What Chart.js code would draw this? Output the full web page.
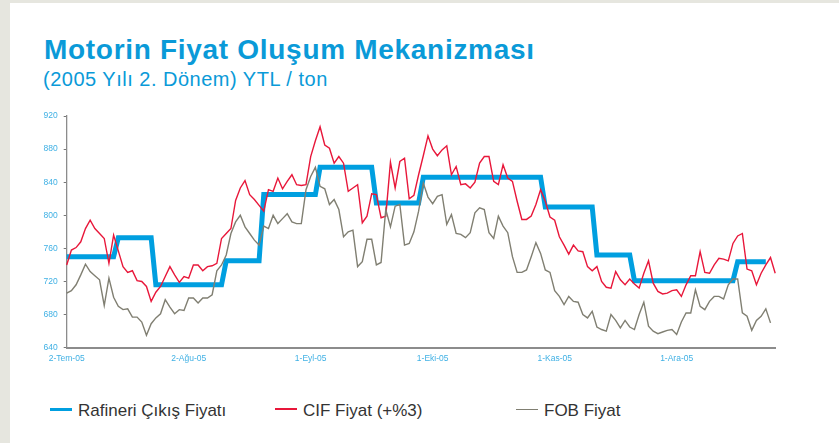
<!DOCTYPE html>
<html><head><meta charset="utf-8">
<script src="https://cdn.jsdelivr.net/npm/chart.js@4"></script>
<style>
html,body{margin:0;padding:0}
body{width:839px;height:443px;background:#e6e6df;position:relative;overflow:hidden;font-family:"Liberation Sans",Arial,sans-serif}
#panel{position:absolute;left:10px;top:3px;width:829px;height:440px;background:#fff}
.t{position:absolute;white-space:nowrap;color:#0a9ad8}
#title{left:44px;top:36px;font-size:28px;line-height:28px;font-weight:bold;letter-spacing:0.7px}
#sub{left:43px;top:69px;font-size:20px;line-height:20px;letter-spacing:0.5px}
#cv{position:absolute;left:0;top:100px}
.lg{position:absolute;top:402px;font-size:17px;line-height:17px;color:#333;white-space:nowrap}
.ln{position:absolute}
</style></head>
<body>
<div id="panel"></div>
<div class="t" id="title">Motorin Fiyat Oluşum Mekanizması</div>
<div class="t" id="sub">(2005 Yılı 2. Dönem) YTL / ton</div>
<canvas id="cv" width="800" height="270"></canvas>
<div class="ln" style="left:50px;width:22px;top:407.5px;height:3px;background:#009fe0"></div>
<div class="lg" style="left:78px">Rafineri Çıkış Fiyatı</div>
<div class="ln" style="left:275px;width:22px;top:408px;height:2px;background:#e8173a"></div>
<div class="lg" style="left:303px">CIF Fiyat (+%3)</div>
<div class="ln" style="left:516px;width:22px;top:408.5px;height:1px;background:#807f72"></div>
<div class="lg" style="left:544px">FOB Fiyat</div>
<script>
// Tick labels shown every 26 trading days
const tickLabels = ["2-Tem-05","2-Ağu-05","1-Eyl-05","1-Eki-05","1-Kas-05","1-Ara-05"];
const tickEvery = 26;
const pointCount = 152;

// Rafineri Çıkış Fiyatı (YTL/ton)
const rafineri = [
750,750,750,750,750,750,750,750,750,750,
750,773,773,773,773,773,773,773,773,716,
716,716,716,716,716,716,716,716,716,716,
716,716,716,716,745,745,745,745,745,745,
745,745,825,825,825,825,825,825,825,825,
825,825,825,825,858,858,858,858,858,858,
858,858,858,858,858,858,815,815,815,815,
815,815,815,815,815,815,846,846,846,846,
846,846,846,846,846,846,846,846,846,846,
846,846,846,846,846,846,846,846,846,846,
846,846,810,810,810,810,810,810,810,810,
810,810,810,752,752,752,752,752,752,752,
752,721,721,721,721,721,721,721,721,721,
721,721,721,721,721,721,721,721,721,721,
721,721,721,744,744,744,744,744,744,744,
null,null];

// CIF Fiyat (+%3)
const cif = [
740,758,761,768,784,794,784,778,772,742,
776,757,738,731,733,721,720,714,696,707,
714,726,738,728,719,726,724,740,740,733,
738,739,742,772,778,784,818,833,842,825,
819,812,805,831,829,845,832,841,849,837,
836,837,871,890,907,885,881,863,871,863,
829,833,837,791,799,826,825,797,799,864,
833,865,869,820,824,849,872,896,880,872,
879,884,849,859,837,838,833,840,863,871,
871,841,837,861,845,841,817,795,795,799,
813,831,817,798,794,774,764,753,764,757,
756,738,733,738,720,713,712,732,722,716,
723,717,712,730,745,718,708,705,706,709,
710,702,716,727,727,756,731,730,740,748,
747,745,766,775,778,735,733,716,730,740,
749,730];

// FOB Fiyat
const fob = [
706,709,716,728,741,732,727,722,691,724,
701,690,686,687,677,677,671,655,669,676,
681,698,689,681,686,685,700,700,694,700,
700,704,733,740,752,778,792,800,786,778,
770,764,787,784,800,790,796,802,792,790,
790,831,847,858,835,832,813,819,807,774,
780,782,738,744,771,771,740,743,807,786,
811,813,764,766,780,805,839,822,814,823,
825,789,801,778,777,773,779,803,809,807,
779,772,799,787,779,750,731,731,734,750,
767,754,734,731,709,702,692,702,696,695,
680,676,684,665,662,660,680,673,664,673,
665,662,680,695,666,660,657,659,661,662,
656,671,682,682,710,690,686,696,702,702,
699,716,723,723,682,678,661,673,678,687,
670,null];

const yTicks = [640,680,720,760,800,840,880,920];

const categories = [];
for (let i = 0; i < pointCount; i++) {
  categories.push(i % tickEvery === 0 && tickLabels[i / tickEvery] ? tickLabels[i / tickEvery] : '');
}

const tickFont = {family: '"Liberation Sans", Arial, sans-serif', size: 8.5};
const tickColor = '#3fb0e4';

new Chart(document.getElementById('cv'), {
  type: 'line',
  data: {
    labels: categories,
    datasets: [
      {label: 'FOB Fiyat', data: fob, borderColor: '#807f72', borderWidth: 1.4, pointRadius: 0, tension: 0, clip: false},
      {label: 'CIF Fiyat (+%3)', data: cif, borderColor: '#e8173a', borderWidth: 1.4, pointRadius: 0, tension: 0, clip: false},
      {label: 'Rafineri Çıkış Fiyatı', data: rafineri, borderColor: '#009fe0', borderWidth: 5, pointRadius: 0, tension: 0, clip: false}
    ]
  },
  options: {
    responsive: false,
    devicePixelRatio: 1,
    animation: false,
    events: [],
    layout: {padding: {top: 16, right: 24.8, left: 0, bottom: 0}},
    plugins: {legend: {display: false}, title: {display: false}, tooltip: {enabled: false}},
    scales: {
      x: {
        type: 'category',
        offset: false,
        grid: {display: false, drawTicks: false},
        border: {display: true, color: '#8c8c8c', width: 2},
        ticks: {autoSkip: false, maxRotation: 0, minRotation: 0, font: tickFont, color: tickColor, padding: 6},
        afterFit: s => { s.height = 22.3; }
      },
      y: {
        min: yTicks[0], max: yTicks[yTicks.length - 1],
        afterBuildTicks: s => { s.ticks = yTicks.map(v => ({value: v})); },
        grid: {display: true, drawOnChartArea: false, drawTicks: true, tickLength: 3, color: '#777', lineWidth: 1},
        border: {display: true, color: '#8c8c8c', width: 1.3},
        ticks: {font: tickFont, color: tickColor, padding: 6},
        afterFit: s => { s.width = 66.7; }
      }
    }
  }
});
</script>
</body></html>
